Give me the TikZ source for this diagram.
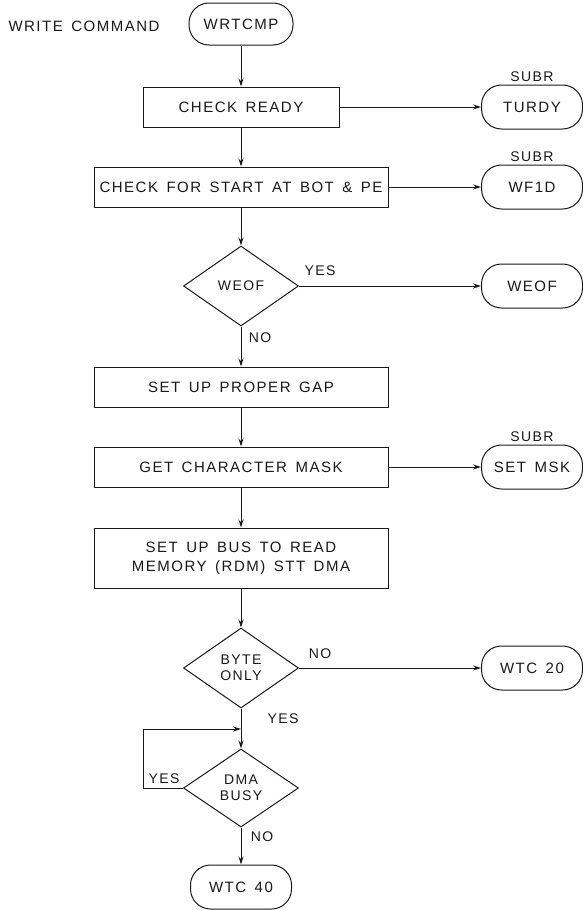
\documentclass[tikz,border=0pt]{standalone}
\usepackage{fontspec}
\setmainfont{Liberation Sans}[LetterSpace=10,WordSpace=1.5]
\usepackage{xcolor}
\usepackage{tikz}
\usetikzlibrary{shapes,arrows.meta,positioning,calc}
\definecolor{ink}{RGB}{25,25,25}

\begin{document}
\begin{tikzpicture}[x=1pt, y=-1pt, color=ink, line width=1pt,
    font=\fontsize{15}{19}\selectfont,
    procbox/.style={draw, rectangle, minimum width=294pt, minimum height=40pt, inner sep=2pt},
    termbox/.style={draw, rectangle, rounded corners=20pt, minimum width=101pt, minimum height=44pt},
    decide/.style={draw, diamond, minimum width=115pt, minimum height=80pt, inner sep=0pt,
        align=center, font=\fontsize{14}{16}\selectfont},
    flow/.style={-{Stealth[length=8pt,width=5pt]}},
    lbl/.style={font=\fontsize{14}{16}\selectfont, inner sep=1pt}]
    \useasboundingbox (0,0) rectangle (583,910);
    \node (title) at (84,26) {WRITE COMMAND};
    \node[termbox, minimum height=42pt, minimum width=104pt] (wrtcmp) at (241,24) {WRTCMP};
    \node[procbox, minimum width=196pt] (ready) at (241,107) {CHECK READY};
    \node[termbox] (turdy) at (532,107) {TURDY};
    \node[lbl, above=1pt of turdy] (subrA) {SUBR};
    \node[procbox] (start) at (241,187) {CHECK FOR START AT BOT \& PE};
    \node[termbox] (wfid) at (532,187) {WF1D};
    \node[lbl, above=1pt of wfid] (subrB) {SUBR};
    \node[decide] (weof) at (241,286) {WEOF};
    \node[termbox] (weofx) at (532,286) {WEOF};
    \node[procbox] (gap) at (241,387) {SET UP PROPER GAP};
    \node[procbox] (mask) at (241,467) {GET CHARACTER MASK};
    \node[termbox] (setmsk) at (532,467) {SET MSK};
    \node[lbl, above=1pt of setmsk] (subrC) {SUBR};
    \node[procbox, minimum height=60pt, align=center] (bus) at (241,558) {SET UP BUS TO READ\\MEMORY (RDM) STT DMA};
    \node[decide] (byte) at (241,668) {BYTE\\ONLY};
    \node[termbox] (wtcA) at (532,668) {WTC 20};
    \coordinate (join) at (241,729);
    \node[decide, minimum height=78pt] (dma) at (241,788) {DMA\\BUSY};
    \node[termbox] (wtcB) at (241,887) {WTC 40};
    \node[lbl] (yesA) at (320,271) {YES};
    \node[lbl] (noA) at (260,338) {NO};
    \node[lbl] (noB) at (320,654) {NO};
    \node[lbl] (yesB) at (283,719) {YES};
    \node[lbl] (yesC) at (164,779) {YES};
    \node[lbl] (noC) at (262,837) {NO};
    \draw[flow] (wrtcmp) -- (ready);
    \draw[flow] (ready) -- (start);
    \draw[flow] (start) -- (weof);
    \draw[flow] (weof) -- (gap);
    \draw[flow] (gap) -- (mask);
    \draw[flow] (mask) -- (bus);
    \draw[flow] (bus) -- (byte);
    \draw (byte.south) -- (join);
    \draw[flow] (join) -- (dma.north);
    \draw[flow] (dma.west) -- ++(-40,0) |- (join);
    \draw[flow] (dma) -- (wtcB);
    \draw[flow] (ready) -- (turdy);
    \draw[flow] (start) -- (wfid);
    \draw[flow] (weof) -- (weofx);
    \draw[flow] (mask) -- (setmsk);
    \draw[flow] (byte) -- (wtcA);
\end{tikzpicture}
\end{document}
